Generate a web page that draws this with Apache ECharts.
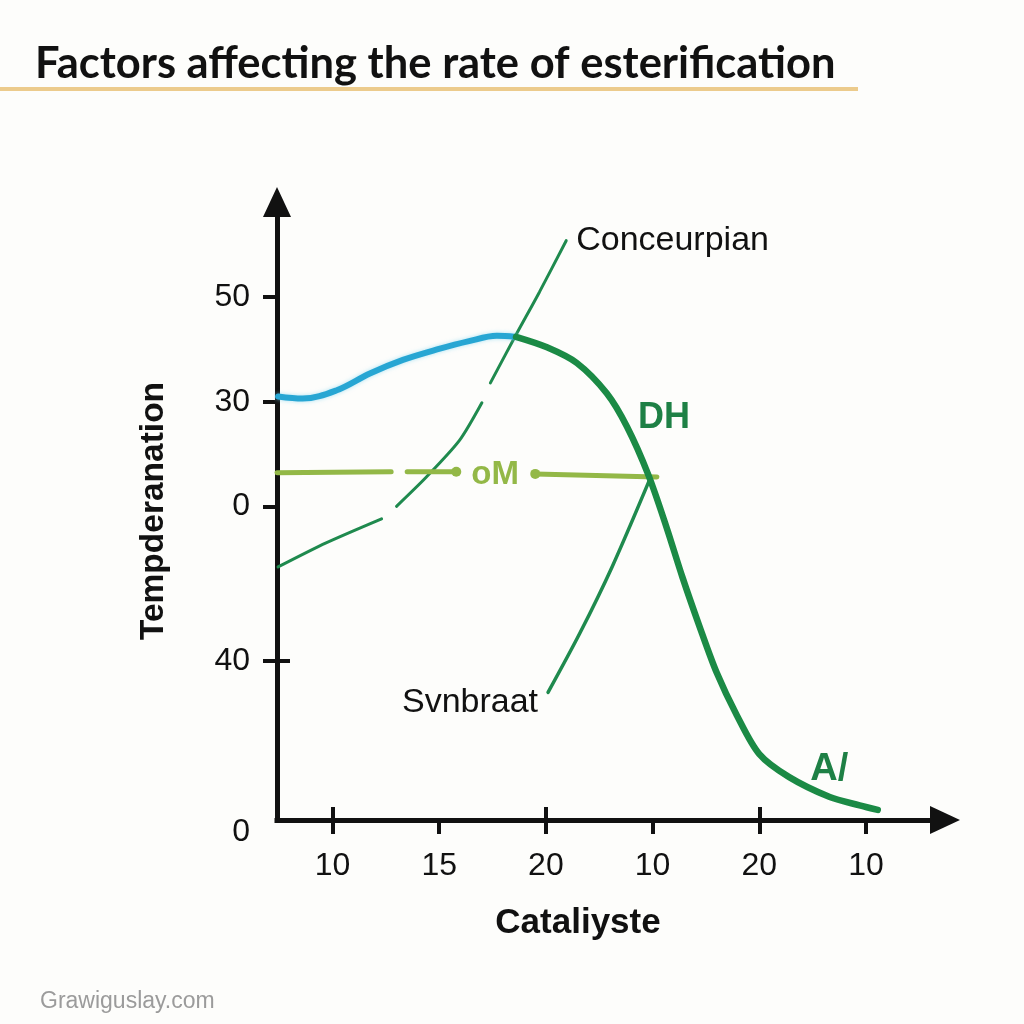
<!DOCTYPE html>
<html><head><meta charset="utf-8">
<script src="https://cdn.jsdelivr.net/npm/echarts@6/dist/echarts.min.js"></script>
<style>html,body{margin:0;padding:0;background:#fdfdfb}#c{width:1024px;height:1024px}</style>
</head><body><div id="c"></div>
<script>
// ---- text ----
const titleText = 'Factors affecting the rate of esterification';
const xName = 'Cataliyste';
const yName = 'Tempderanation';
const watermark = 'Grawiguslay.com';

// ---- axes (tick positions in chart units and their printed labels) ----
const xTickValues = [1, 2, 3, 4, 5, 6];
const xTickLabels = ['10', '15', '20', '10', '20', '10'];
const xMajorTicks = [1, 3, 5];
const yTickValues = [0, 15.2, 30, 40, 50];
const yTickLabels = ['0', '40', '0', '30', '50'];
const yBothSideTicks = [15.2];

// ---- series (null separates broken segments) ----
const blueX = [0.49, 0.72, 1.04, 1.35, 1.66, 1.98, 2.28, 2.54, 2.72];
const blueY = [40.5, 40.3, 41.1, 42.7, 44.0, 45.0, 45.8, 46.3, 46.2];

const dhX = [2.72, 3.01, 3.29, 3.57, 3.76, 3.96, 4.13, 4.28, 4.44, 4.60, 4.79, 5.00, 5.28, 5.66, 5.94, 6.11];
const dhY = [46.2, 45.2, 43.7, 40.8, 37.6, 33.0, 28.0, 23.2, 18.5, 14.1, 10.0, 6.3, 4.1, 2.2, 1.4, 0.96];

const concX = [0.49, 0.94, 1.46, null, 1.60, 1.88, 2.19, 2.40, null, 2.48, 2.72, 2.94, 3.19];
const concY = [24.2, 26.5, 28.8, null, 30.0, 32.8, 36.3, 39.9, null, 41.8, 46.4, 50.5, 55.4];

const synX = [3.02, 3.32, 3.62, 3.97];
const synY = [12.2, 17.9, 24.2, 32.5];

const omX = [0.48, 1.55, null, 1.70, 2.16, null, 2.90, 4.04];
const omY = [33.2, 33.3, null, 33.3, 33.3, null, 33.1, 32.8];

// ---- helpers ----
function segments(xs, ys) {
  const segs = []; let cur = [];
  xs.forEach((x, i) => {
    if (x === null) { if (cur.length) segs.push(cur); cur = []; }
    else cur.push([x, ys[i]]);
  });
  if (cur.length) segs.push(cur);
  return segs;
}
const FONT = '"Liberation Sans", Arial, sans-serif';
const C_BLUE = '#27a6d3', C_GREEN = '#1b8a45', C_THIN = '#1f8a4e', C_YG = '#93b847', C_DH = '#1e8045';

function lineSeries(data, color, width, extra) {
  return Object.assign({
    type: 'line', data: data, smooth: 0.35, symbol: 'circle', symbolSize: 0, showSymbol: true,
    lineStyle: { color: color, width: width, cap: 'round' }, itemStyle: { color: color },
    silent: true, animation: false, xAxisIndex: 0, yAxisIndex: 0,
    label: { show: false }, emphasis: { disabled: true }
  }, extra || {});
}

const series = [];
// thin green "Conceurpian"
const concSegs = segments(concX, concY);
concSegs.forEach((seg, si) => {
  const data = seg.map((p, i) => {
    if (si === concSegs.length - 1 && i === seg.length - 1) {
      return { value: p, label: { show: true, formatter: 'Conceurpian', position: 'right', distance: 10,
        offset: [0, 0], color: '#111', fontSize: 34, fontFamily: FONT } };
    }
    return p;
  });
  series.push(lineSeries(data, C_THIN, 3, { smooth: 0.25 }));
});
// Svnbraat line
series.push(lineSeries(synX.map((x, i) => {
  const p = [x, synY[i]];
  if (i === 0) return { value: p, label: { show: true, formatter: 'Svnbraat', position: 'left', distance: 10,
    offset: [0, 10], color: '#111', fontSize: 34, fontFamily: FONT } };
  return p;
}), C_THIN, 3.5, { smooth: 0.3 }));
// yellow-green "oM"
const omSegs = segments(omX, omY);
omSegs.forEach((seg, si) => {
  const data = seg.map((p, i) => {
    if (si === 1 && i === seg.length - 1) {
      return { value: p, symbolSize: 10, label: { show: true, formatter: 'oM', position: 'right', distance: 10,
        offset: [0, 3], color: C_YG, fontSize: 33, fontWeight: 'bold', fontFamily: FONT } };
    }
    if (si === 2 && i === 0) return { value: p, symbolSize: 10 };
    return p;
  });
  series.push(lineSeries(data, C_YG, 5, { smooth: false, z: 3 }));
});
// blue curve
series.push(lineSeries(blueX.map((x, i) => [x, blueY[i]]), C_BLUE, 6, { z: 4,
  lineStyle: { color: C_BLUE, width: 6, cap: 'round', shadowColor: 'rgba(120,210,240,0.6)', shadowBlur: 4 } }));
// thick green curve
series.push(lineSeries(dhX.map((x, i) => {
  const p = [x, dhY[i]];
  if (i === 4) return { value: p, label: { show: true, formatter: 'DH', position: 'right', distance: 11,
    offset: [0, -9], color: C_DH, fontSize: 36, fontWeight: 'bold', fontFamily: FONT } };
  if (i === 12) return { value: p, label: { show: true, formatter: 'A/', position: 'right', distance: 21,
    offset: [0, -8], color: C_DH, fontSize: 38, fontWeight: 'bold', fontFamily: FONT } };
  return p;
}), C_GREEN, 6.5, { z: 5, smooth: 0.3 }));

const axisLineStyle = { color: '#111', width: 5, cap: 'square' };
const tickStyle = { color: '#111', width: 4 };
const labelStyle = { fontSize: 32, color: '#111', fontFamily: FONT };

const option = {
  backgroundColor: '#fdfdfb',
  animation: false,
  title: {
    text: titleText, left: 30, top: 37,
    textStyle: { fontSize: 43.5, fontWeight: 'bold', color: '#111', fontFamily: 'Lato, "Liberation Sans", sans-serif' }
  },
  graphic: [
    { type: 'line', shape: { x1: 0, y1: 89, x2: 858, y2: 89 }, style: { stroke: '#eccb8c', lineWidth: 4 }, silent: true },
    { type: 'text', left: 40, top: 990, silent: true,
      style: { text: watermark, fill: '#9b9b9b', font: '23px "Liberation Sans", Arial, sans-serif' } }
  ],
  grid: { left: 277, right: 79, top: 202, bottom: 204, containLabel: false },
  xAxis: [{
    type: 'value', min: 0.48, max: 6.74,
    axisLine: { show: true, lineStyle: axisLineStyle, symbol: ['none', 'triangle'], symbolSize: [28, 30] },
    axisTick: { show: true, length: 14, lineStyle: tickStyle, customValues: xTickValues },
    axisLabel: Object.assign({ customValues: xTickValues, margin: 30,
      formatter: v => xTickLabels[xTickValues.indexOf(v)] }, labelStyle),
    splitLine: { show: false },
    name: xName, nameLocation: 'middle', nameGap: 86,
    nameTextStyle: { fontSize: 35, fontWeight: 'bold', color: '#111', fontFamily: FONT, padding: [0, 66, 0, 0] }
  }, {
    type: 'value', min: 0.48, max: 6.74, position: 'bottom',
    axisLine: { show: false },
    axisTick: { show: true, inside: true, length: 13, lineStyle: tickStyle, customValues: xMajorTicks },
    axisLabel: { show: false }, splitLine: { show: false }
  }],
  yAxis: [{
    type: 'value', min: 0, max: 59.1,
    axisLine: { show: true, lineStyle: axisLineStyle, symbol: ['none', 'triangle'], symbolSize: [28, 30] },
    axisTick: { show: true, length: 14, lineStyle: tickStyle, customValues: yTickValues.filter(v => v !== 0) },
    axisLabel: Object.assign({ customValues: yTickValues, margin: 27,
      formatter: v => v === 0 ? '{low|' + yTickLabels[0] + '}' : yTickLabels[yTickValues.indexOf(v)],
      rich: { low: { fontSize: 32, color: '#111', fontFamily: FONT, padding: [24, 0, 0, 0] } } }, labelStyle),
    splitLine: { show: false },
    name: yName, nameLocation: 'middle', nameGap: 106, nameRotate: 90,
    nameTextStyle: { fontSize: 33.5, fontWeight: 'bold', color: '#111', fontFamily: FONT }
  }, {
    type: 'value', min: 0, max: 59.1, position: 'left',
    axisLine: { show: false },
    axisTick: { show: true, inside: true, length: 13, lineStyle: tickStyle, customValues: yBothSideTicks },
    axisLabel: { show: false }, splitLine: { show: false }
  }],
  series: series
};

const chart = echarts.init(document.getElementById('c'), null, { renderer: 'canvas' });
chart.setOption(option);
</script>
</body></html>
